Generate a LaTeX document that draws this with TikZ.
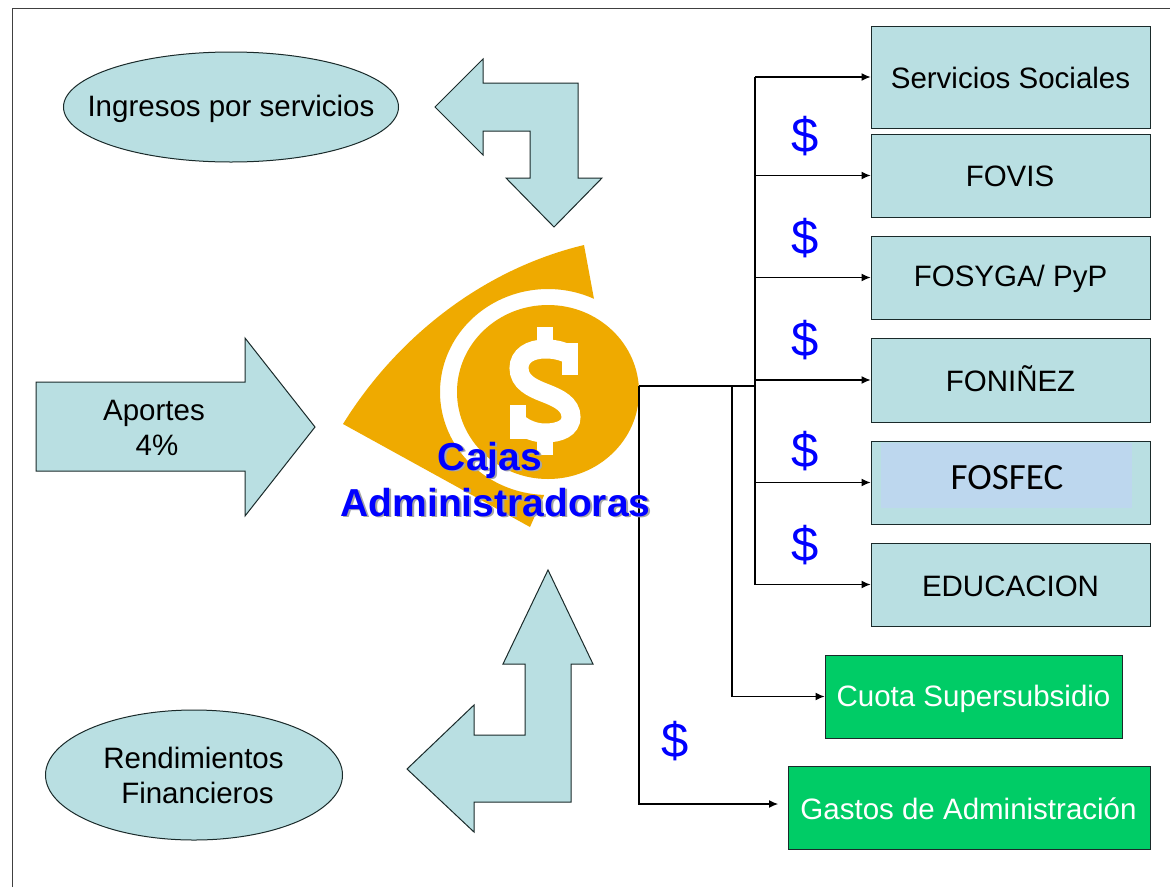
\documentclass[tikz,border=0pt]{standalone}
\usepackage{fontspec}
\setmainfont{Liberation Sans}
\newfontfamily\carlitofont{Carlito}
\usetikzlibrary{shapes.geometric,arrows.meta,calc}
\definecolor{teal0}{HTML}{B9DFE2}
\definecolor{gold0}{HTML}{EFAA00}
\definecolor{green0}{HTML}{00CC66}
\definecolor{sky0}{HTML}{BDD7EE}
\definecolor{edge0}{HTML}{1A2A2A}
\tikzset{
  x=1pt,y=-1pt,
  txt/.style={font=\fontsize{29.5}{35}\selectfont,align=center,text=black,inner sep=0pt},
  tealbox/.style={draw=edge0,line width=1pt,fill=teal0,inner sep=0pt,anchor=north west},
  greenbox/.style={draw=edge0,line width=1pt,fill=green0,inner sep=0pt,anchor=north west},
  greentxt/.style={text=white,font=\fontsize{29.5}{35}\selectfont,inner sep=0pt},
  oval/.style={ellipse,draw=edge0,line width=1pt,fill=teal0,inner sep=0pt},
  bigarrow/.style={draw=edge0,line width=1pt,fill=teal0,line join=miter},
  wire/.style={draw=black,line width=1.1pt},
  wirearrow/.style={wire,-{Latex[length=9pt,width=8pt]}},
  money/.style={text=blue,font=\fontsize{49}{49}\selectfont,inner sep=0pt},
  cajas/.style={font=\bfseries\fontsize{39}{46}\selectfont,align=center,inner sep=0pt}
}
\begin{document}
\begin{tikzpicture}
\useasboundingbox (0,0) rectangle (1170,887);
\fill[white] (0,0) rectangle (1170,887);
% frame
\draw[line width=1pt,draw=black!75] (12.5,887) -- (12.5,8) -- (1170,8);
% ovals
\node[oval,minimum width=335pt,minimum height=110pt] (ingresos) at (231,107) {};
\node[txt] (ingresostxt) at (231,109) {Ingresos por servicios};
\node[oval,minimum width=297pt,minimum height=130pt] (rendim) at (194,775) {};
\node[txt] (rendimtxt) at (193.5,775.5) {Rendimientos\\\hspace*{8pt}Financieros};
% block arrows
\draw[bigarrow] (435,107) -- (483,59) -- (483,83) -- (578,83) -- (578,178) -- (602,178) -- (554,227) -- (506,178) -- (530,178) -- (530,131) -- (483,131) -- (483,155) -- cycle;
\draw[bigarrow] (36,382) -- (245,382) -- (245,338) -- (315,427) -- (245,516) -- (245,471) -- (36,471) -- cycle;
\node[txt] (aportes) at (154,428) {Aportes\\\hspace*{6pt}4\%};
\draw[bigarrow] (548,570) -- (593,664) -- (571,664) -- (571,802) -- (474,802) -- (474,832) -- (407,769) -- (474,705) -- (474,735) -- (525,735) -- (525,664) -- (503,664) -- cycle;
% logo
\fill[gold0] (343,424) .. controls (395,340) and (480,270) .. (584,245) -- (594,299)
  -- plot[domain=-64.8:-268,samples=70,smooth] ({548+108*cos(\x)},{392+103*sin(\x)}) -- (530,527) -- cycle;
\node[ellipse,fill=gold0,minimum width=182pt,minimum height=174pt,inner sep=0pt] (coin) at (548,392) {};
\begin{scope}[white]
\draw[line width=19pt,line cap=butt] (572,356) .. controls (562,350) and (553,349) .. (545,349) .. controls (530,349) and (519,356) .. (519,368) .. controls (519,382) and (532,388) .. (545,393) .. controls (558,398) and (571,404) .. (571,417) .. controls (571,428) and (560,433) .. (545,433) .. controls (535,433) and (525,429) .. (518,423);
\fill (537,327) rectangle (553,345);
\fill (537,437) rectangle (553,455);
\fill (562,343) rectangle (578,375);
\fill (510,405) rectangle (526,439);
\end{scope}
% boxes
\node[tealbox,minimum width=279pt,minimum height=102pt] (servicios) at (870.5,25.5) {};
\node[txt] at (1010.5,78) {Servicios Sociales};
\node[tealbox,minimum width=279pt,minimum height=83pt] (fovis) at (870.5,133.5) {};
\node[txt] at (1010,176) {FOVIS};
\node[tealbox,minimum width=279pt,minimum height=83pt] (fosyga) at (870.5,235.5) {};
\node[txt] at (1010.5,279) {FOSYGA/ PyP};
\node[tealbox,minimum width=279pt,minimum height=84pt] (fonino) at (870.5,337.5) {};
\node[txt] at (1010.5,378.5) {FONIÑEZ};
\node[tealbox,minimum width=279pt,minimum height=83pt] (fosfec) at (870.5,440.5) {};
\fill[sky0] (881,443) rectangle (1132,508);
\node[inner sep=0pt,font=\carlitofont\fontsize{37}{38}\selectfont] (fosfectxt) at (1007,478) {FOSFEC};
\node[tealbox,minimum width=279pt,minimum height=83pt] (educ) at (870.5,542.5) {};
\node[txt] at (1010.5,586) {EDUCACION};
\node[greenbox,minimum width=297pt,minimum height=83pt] (cuota) at (824.5,654.5) {};
\node[greentxt] at (973.5,699) {Cuota Supersubsidio};
\node[greenbox,minimum width=362pt,minimum height=83pt] (gastos) at (787.5,765.5) {};
\node[greentxt] at (968.5,809) {Gastos de Administración};
% connectors
\coordinate (hub) at (755,386);
\coordinate (mid) at (732,386);
\coordinate (gastosin) at (778,804);
\coordinate (coinout) at (639,386);
\coordinate (trunktop) at (hub |- servicios.west);
\coordinate (trunkbot) at (hub |- educ.west);
\draw[wire] (coinout) -- (hub);
\draw[wire] (trunktop) -- (trunkbot);
\foreach \b in {servicios,fovis,fosyga,fonino,fosfec,educ}
  \draw[wirearrow] (hub |- \b.west) -- (\b.west);
\draw[wirearrow] (mid) |- (cuota.west);
\draw[wirearrow] (coinout) |- (gastosin);
% money signs
\node[money] (m1) at (805,136.5) {\$};
\node[money] (m2) at (805,238.5) {\$};
\node[money] (m3) at (805,340) {\$};
\node[money] (m4) at (805,451) {\$};
\node[money] (m5) at (805,545) {\$};
\node[money] (m6) at (675,741) {\$};
% title
\node[cajas,text=black!35] (cajasshadow) at (497.5,481) {Cajas\hspace*{11pt}\\Administradoras};
\node[cajas,text=blue] (cajastxt) at (495.5,479.5) {Cajas\hspace*{11pt}\\Administradoras};
\end{tikzpicture}
\end{document}
